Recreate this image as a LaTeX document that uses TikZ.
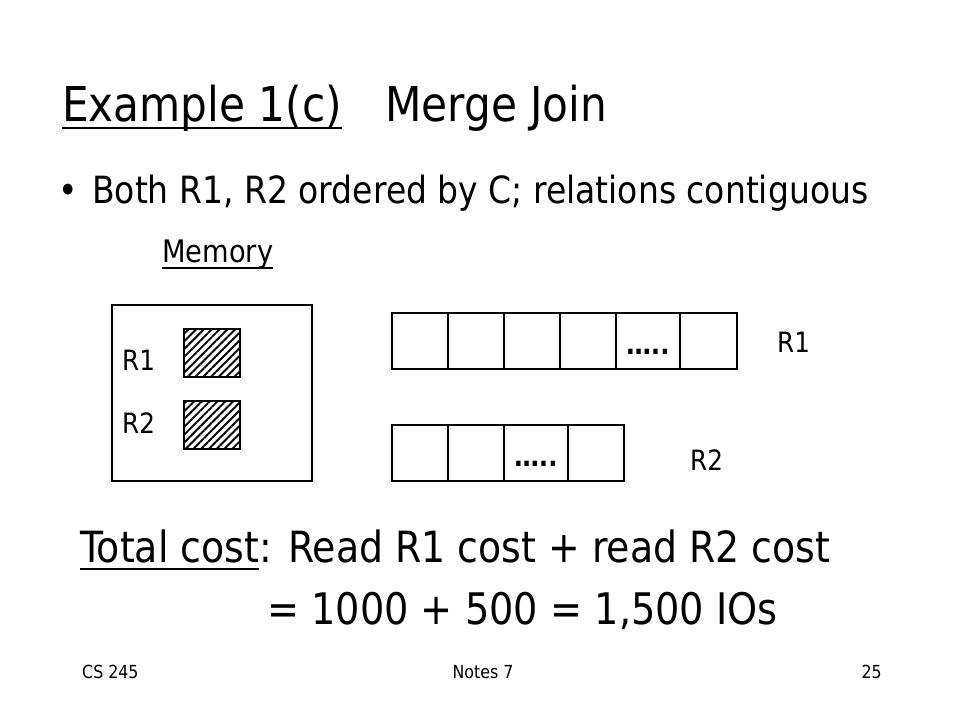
\documentclass[tikz,border=0pt]{standalone}
\usepackage{fontspec}
\setmainfont{DejaVu Sans}[FakeStretch=0.88]
\usetikzlibrary{patterns.meta}

\begin{document}
\begin{tikzpicture}[x=1pt, y=-1pt,
    txt/.style={inner sep=0pt, anchor=base west},
    cell/.style={draw, line width=1.2pt, minimum height=56pt, inner sep=0pt},
    hatched/.style={draw, line width=1.8pt, minimum width=56pt, minimum height=48pt,
        pattern={Lines[angle=45, distance=5.5pt, line width=1.9pt]}},
    dots/.style={inner sep=0pt, anchor=base, font=\fontsize{28}{34}\selectfont\bfseries},
    uline/.style={line width=2.4pt}]
    \useasboundingbox (0,0) rectangle (960,720);

    \node[txt, font=\fontsize{48}{58}\selectfont] (example) at (62,121) {Example 1(c)};
    \node[txt, font=\fontsize{48}{58}\selectfont] (merge) at (385,121) {Merge Join};
    \draw[uline] ([yshift=-7pt]example.base west) -- ([yshift=-7pt]example.base east);

    \node[txt, font=\fontsize{37.5}{45}\selectfont] (bullet) at (58,203) {•};
    \node[txt, font=\fontsize{37.5}{45}\selectfont] (both) at (92,203) {Both R1, R2 ordered by C; relations contiguous};

    \node[txt, font=\fontsize{31}{37}\selectfont] (memory) at (162,262) {Memory};
    \draw[line width=1.8pt] ([yshift=-6pt]memory.base west) -- ([yshift=-6pt]memory.base east);

    \node[draw, line width=1.2pt, minimum width=200pt, minimum height=176pt] (mem) at (212,393) {};
    \node[txt, font=\fontsize{28}{34}\selectfont] (memr1) at (122,370) {R1};
    \node[txt, font=\fontsize{28}{34}\selectfont] (memr2) at (122,433) {R2};
    \node[hatched] (buf1) at (212,353) {};
    \node[hatched] (buf2) at (212,425) {};

    \node[cell, minimum width=56pt] (r1a) at (420,341) {};
    \node[cell, minimum width=56pt] (r1b) at (476,341) {};
    \node[cell, minimum width=56pt] (r1c) at (532,341) {};
    \node[cell, minimum width=56pt] (r1d) at (588,341) {};
    \node[cell, minimum width=64pt] (r1e) at (648,341) {};
    \node[cell, minimum width=57pt] (r1f) at (708.5,341) {};
    \node[dots] (r1dots) at (648,354) {…..};
    \node[txt, font=\fontsize{28}{34}\selectfont] (r1) at (777,352) {R1};

    \node[cell, minimum width=56pt] (r2a) at (420,453) {};
    \node[cell, minimum width=56pt] (r2b) at (476,453) {};
    \node[cell, minimum width=64pt] (r2c) at (536,453) {};
    \node[cell, minimum width=56pt] (r2d) at (596,453) {};
    \node[dots] (r2dots) at (536,466) {…..};
    \node[txt, font=\fontsize{28}{34}\selectfont] (r2) at (690,470) {R2};

    \node[txt, font=\fontsize{43}{52}\selectfont] (totalcost) at (80,562) {Total cost};
    \node[txt, font=\fontsize{43}{52}\selectfont] (total) at (totalcost.base east) {: Read R1 cost + read R2 cost};
    \node[txt, font=\fontsize{43.5}{52}\selectfont] (sum) at (267,624) {= 1000 + 500 = 1,500 IOs};
    \draw[uline] ([yshift=-7pt]totalcost.base west) -- ([yshift=-7pt]totalcost.base east);

    \node[txt, font=\fontsize{18}{22}\selectfont] (course) at (82,678) {CS 245};
    \node[txt, anchor=base, font=\fontsize{18}{22}\selectfont] (notes) at (483,678) {Notes 7};
    \node[txt, anchor=base east, font=\fontsize{18}{22}\selectfont] (page) at (882,678) {25};
\end{tikzpicture}
\end{document}
